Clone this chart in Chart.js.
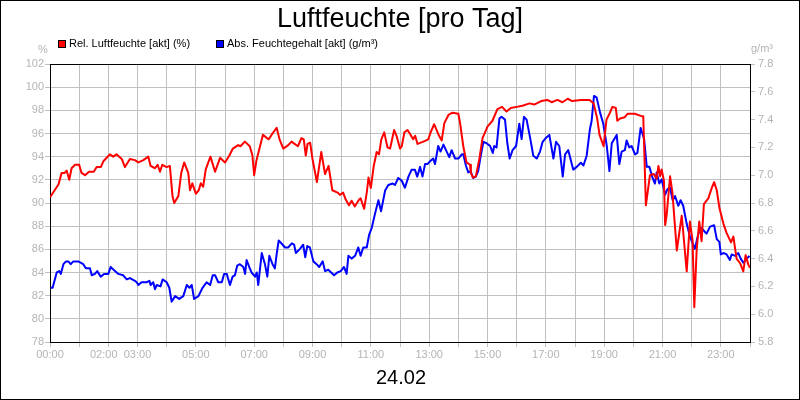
<!DOCTYPE html>
<html>
<head>
<meta charset="utf-8">
<title>Luftfeuchte [pro Tag]</title>
<script src="https://cdn.jsdelivr.net/npm/chart.js@4.4.1/dist/chart.umd.min.js"></script>
<style>
  html, body { margin: 0; padding: 0; background: #fff; }
  #wrap { width: 800px; height: 400px; position: relative; }
</style>
</head>
<body>
<div id="wrap"><canvas id="chart"></canvas></div>
<script>
// Rel. Luftfeuchte (%) - time in hours of the day
const relHours = [
  0, 0.29, 0.4, 0.5, 0.57, 0.66, 0.74, 0.86, 1.0, 1.08, 1.2, 1.34, 1.5, 1.6, 1.74, 1.83,
  2.05, 2.17, 2.28, 2.46, 2.57, 2.74, 2.91, 3.03, 3.2, 3.37, 3.45, 3.6, 3.69, 3.77, 3.85,
  4.0, 4.11, 4.2, 4.26, 4.4, 4.5, 4.6, 4.74, 4.8, 4.88, 5.0, 5.1, 5.17, 5.25, 5.34, 5.5, 5.66, 5.83,
  6.0, 6.15, 6.27, 6.45, 6.53, 6.68, 6.85, 6.94, 7.0, 7.08, 7.3, 7.44, 7.5, 7.6, 7.77, 7.87,
  8.0, 8.17, 8.28, 8.5, 8.62, 8.7, 8.77, 8.83, 8.92, 9.0, 9.15, 9.3, 9.43, 9.55, 9.68, 9.86, 9.94,
  10.05, 10.14, 10.25, 10.34, 10.45, 10.6, 10.65, 10.77, 10.86, 10.92, 11.0, 11.1, 11.2, 11.28, 11.36, 11.46, 11.57, 11.66, 11.8, 11.88,
  12.0, 12.06, 12.15, 12.26, 12.36, 12.45, 12.52, 12.6, 12.8, 12.97, 13.05, 13.17, 13.32, 13.43, 13.52, 13.66, 13.8,
  14.0, 14.06, 14.17, 14.28, 14.4, 14.43, 14.5, 14.6, 14.72, 14.83, 15.0, 15.17, 15.34, 15.5, 15.65, 15.8,
  16.0, 16.2, 16.44, 16.6, 16.84, 17.05, 17.2, 17.4, 17.57, 17.75, 17.9, 18.2, 18.5, 18.64, 18.76, 18.84, 18.98,
  19.08, 19.2, 19.28, 19.4, 19.45, 19.55, 19.7, 19.8, 20.05, 20.28, 20.34, 20.43, 20.57, 20.7, 20.8, 20.86, 20.92, 20.97,
  21.05, 21.09, 21.14, 21.26, 21.34, 21.49, 21.66, 21.83, 21.94, 22.03, 22.09, 22.17, 22.26, 22.34, 22.42, 22.57, 22.69, 22.77, 22.86, 22.95,
  23.09, 23.2, 23.35, 23.43, 23.54, 23.66, 23.77, 23.85, 23.94, 24.0
];
const relValues = [
  90.5, 91.6, 92.6, 92.6, 92.8, 92.0, 93.0, 93.3, 93.3, 92.6, 92.4, 92.7, 92.7, 93.1, 93.1, 93.6,
  94.2, 94.0, 94.2, 93.8, 93.1, 93.8, 93.7, 93.5, 93.7, 94.0, 93.2, 93.0, 93.3, 92.7, 93.3,
  93.1, 93.2, 90.6, 90.0, 90.6, 92.6, 93.5, 92.6, 91.1, 91.7, 90.8, 91.1, 91.7, 91.4, 92.9, 94.0, 92.7, 93.9,
  93.5, 94.1, 94.7, 95.0, 94.9, 95.3, 94.9, 94.1, 92.4, 93.7, 95.9, 95.6, 95.5, 95.9, 96.5, 95.5,
  94.7, 95.0, 95.3, 94.9, 95.6, 95.5, 94.1, 95.1, 95.2, 93.8, 91.8, 94.4, 92.5, 93.2, 91.1, 90.9, 90.7,
  90.9, 90.3, 89.8, 90.2, 89.7, 90.3, 90.4, 89.5, 90.9, 92.2, 91.3, 93.2, 94.4, 94.2, 95.5, 96.1, 94.8, 94.7, 96.3, 95.8,
  94.7, 94.9, 96.1, 96.3, 95.9, 95.5, 95.8, 95.1, 95.3, 95.5, 96.1, 96.8, 95.9, 95.4, 96.9, 97.6, 97.8,
  97.7, 96.9, 94.9, 93.5, 93.3, 92.6, 92.2, 92.3, 93.8, 95.6, 96.6, 97.1, 98.1, 98.3, 97.9, 98.2,
  98.3, 98.4, 98.6, 98.5, 98.8, 98.9, 98.7, 98.9, 98.7, 99.0, 98.8, 98.9, 98.9, 98.6, 97.3, 95.9, 94.9,
  97.2, 97.8, 98.3, 98.2, 97.1, 97.3, 97.4, 97.7, 97.7, 97.5, 97.5, 89.8, 92.4, 92.5, 92.1, 93.2, 92.3, 92.9,
  91.9, 88.1, 88.9, 92.3, 90.9, 85.9, 88.9, 84.1, 88.4, 86.8, 81.0, 85.9, 88.4, 86.7, 89.9, 90.4, 91.3, 91.8, 91.1, 89.6,
  88.2, 87.4, 86.6, 87.1, 85.2, 84.8, 84.1, 85.5, 84.7, 84.4
];

// Abs. Feuchtegehalt (g/m³)
const absHours = [
  0.02, 0.09, 0.23, 0.32, 0.37, 0.46, 0.55, 0.63, 0.71, 0.8, 0.91, 0.97, 1.14, 1.23, 1.37, 1.43, 1.54, 1.62, 1.74, 1.85,
  2.0, 2.08, 2.23, 2.34, 2.51, 2.63, 2.74, 2.91, 2.97, 3.03, 3.14, 3.31, 3.41, 3.45, 3.54, 3.6, 3.66, 3.79, 3.86,
  4.0, 4.09, 4.17, 4.29, 4.43, 4.57, 4.69, 4.78, 4.86, 4.94, 5.09, 5.23, 5.37, 5.49, 5.58, 5.66, 5.77, 5.89, 5.97,
  6.06, 6.17, 6.26, 6.34, 6.42, 6.51, 6.63, 6.69, 6.74, 6.83, 6.91, 7.03, 7.09, 7.14, 7.26, 7.37, 7.45, 7.52, 7.63, 7.71, 7.77, 7.84, 7.93,
  8.06, 8.17, 8.29, 8.37, 8.43, 8.57, 8.68, 8.75, 8.82, 8.91, 9.03, 9.14, 9.23, 9.35, 9.43, 9.54, 9.64, 9.74, 9.85, 9.97,
  10.08, 10.17, 10.23, 10.34, 10.46, 10.57, 10.65, 10.74, 10.86, 10.94, 11.03, 11.14, 11.26, 11.35, 11.49, 11.6, 11.75, 11.83, 11.94,
  12.06, 12.17, 12.29, 12.4, 12.51, 12.59, 12.69, 12.77, 12.86, 12.94, 13.03, 13.14, 13.2, 13.31, 13.39, 13.49, 13.6, 13.69, 13.77, 13.89,
  14.0, 14.12, 14.17, 14.26, 14.34, 14.42, 14.51, 14.6, 14.68, 14.76, 14.86, 14.97, 15.09, 15.18, 15.23, 15.31, 15.41, 15.48, 15.6, 15.68, 15.76, 15.86, 15.98,
  16.09, 16.17, 16.25, 16.34, 16.46, 16.57, 16.69, 16.8, 16.89, 17.01, 17.12, 17.26, 17.35, 17.46, 17.58, 17.66, 17.77, 17.94,
  18.06, 18.2, 18.29, 18.4, 18.51, 18.57, 18.65, 18.74, 18.86, 18.97, 19.09, 19.18, 19.26, 19.43, 19.52, 19.6, 19.71, 19.77, 19.86, 19.94,
  20.06, 20.14, 20.25, 20.37, 20.46, 20.55, 20.66, 20.74, 20.8, 20.89, 20.97, 21.09, 21.17, 21.26, 21.35, 21.43, 21.54, 21.62, 21.71, 21.83, 21.94,
  22.11, 22.23, 22.34, 22.46, 22.51, 22.63, 22.77, 22.86, 22.95, 23.0, 23.09, 23.2, 23.31, 23.37, 23.49, 23.6, 23.68, 23.77, 23.89, 23.98
];
const absValues = [
  6.19, 6.19, 6.30, 6.31, 6.29, 6.36, 6.38, 6.38, 6.36, 6.38, 6.38, 6.38, 6.36, 6.33, 6.33, 6.28, 6.29, 6.31, 6.27, 6.29,
  6.29, 6.34, 6.31, 6.29, 6.28, 6.25, 6.26, 6.24, 6.23, 6.21, 6.23, 6.23, 6.24, 6.21, 6.23, 6.18, 6.21, 6.20, 6.25,
  6.23, 6.19, 6.09, 6.13, 6.11, 6.13, 6.21, 6.19, 6.21, 6.11, 6.13, 6.19, 6.23, 6.21, 6.28, 6.28, 6.23, 6.23, 6.29,
  6.29, 6.21, 6.27, 6.28, 6.35, 6.36, 6.34, 6.29, 6.39, 6.34, 6.30, 6.27, 6.30, 6.21, 6.44, 6.36, 6.27, 6.42, 6.36, 6.33, 6.43, 6.53, 6.51,
  6.48, 6.48, 6.51, 6.50, 6.44, 6.47, 6.50, 6.41, 6.49, 6.48, 6.38, 6.36, 6.34, 6.38, 6.31, 6.32, 6.30, 6.28, 6.30, 6.31,
  6.34, 6.29, 6.42, 6.40, 6.42, 6.48, 6.42, 6.48, 6.48, 6.57, 6.62, 6.72, 6.82, 6.74, 6.89, 6.93, 6.94, 6.93, 6.98,
  6.96, 6.91, 6.99, 7.04, 7.04, 6.99, 7.06, 6.99, 7.08, 7.08, 7.10, 7.12, 7.08, 7.21, 7.17, 7.22, 7.17, 7.13, 7.18, 7.12,
  7.12, 7.15, 7.15, 7.07, 7.02, 7.03, 6.98, 6.99, 7.03, 7.13, 7.24, 7.23, 7.21, 7.16, 7.21, 7.20, 7.41, 7.42, 7.40, 7.23, 7.12, 7.18, 7.21,
  7.37, 7.26, 7.42, 7.40, 7.27, 7.14, 7.12, 7.17, 7.24, 7.27, 7.29, 7.12, 7.24, 7.21, 6.99, 7.15, 7.18, 7.04,
  7.06, 7.09, 7.07, 7.14, 7.33, 7.39, 7.57, 7.56, 7.45, 7.37, 7.21, 7.03, 7.23, 7.29, 7.08, 7.17, 7.18, 7.25, 7.20, 7.21,
  7.15, 7.16, 7.34, 7.26, 7.06, 7.06, 6.98, 6.94, 7.02, 6.94, 6.97, 6.86, 6.90, 6.91, 6.82, 6.85, 6.78, 6.82, 6.78, 6.65, 6.56,
  6.47, 6.58, 6.62, 6.59, 6.58, 6.63, 6.64, 6.54, 6.52, 6.43, 6.44, 6.43, 6.39, 6.43, 6.42, 6.44, 6.40, 6.37, 6.40, 6.42
];

// hours that get a label on the x axis
const labelHours = [0, 2, 3, 5, 7, 9, 11, 13, 15, 17, 19, 21, 23];

const gridColor = '#c0c0c0';
const tickColor = '#b4b4b4';
const tickFont = { family: 'Arial, "Liberation Sans"', size: 11 };

function toPoints(xs, ys) {
    return xs.map((x, i) => ({ x: x, y: ys[i] }));
}

// background, frame and all the texts around the plot
const decoPlugin = {
    id: 'deco',
    beforeDraw(chart) {
        const ctx = chart.ctx;
        ctx.save();
        ctx.fillStyle = '#fff';
        ctx.fillRect(0, 0, chart.width, chart.height);
        ctx.restore();
    },
    beforeDatasetsDraw(chart) {
        const ctx = chart.ctx;
        const a = chart.chartArea;
        ctx.save();
        ctx.strokeStyle = '#000';
        ctx.lineWidth = 1;
        ctx.strokeRect(Math.round(a.left) + 0.5, Math.round(a.top) + 0.5,
            Math.round(a.right - a.left), Math.round(a.bottom - a.top));
        ctx.restore();
    },
    afterDraw(chart) {
        const ctx = chart.ctx;
        ctx.save();
        // outer frame
        ctx.strokeStyle = '#000';
        ctx.lineWidth = 1;
        ctx.strokeRect(0.5, 0.5, chart.width - 1, chart.height - 1);

        // title
        ctx.fillStyle = '#000';
        ctx.textAlign = 'center';
        ctx.textBaseline = 'alphabetic';
        ctx.font = '27px Arial, "Liberation Sans"';
        ctx.fillText('Luftfeuchte [pro Tag]', 400, 27);

        // date below the x axis
        ctx.font = '20px Arial, "Liberation Sans"';
        ctx.fillText('24.02', 401, 384);

        // units
        ctx.font = '11px Arial, "Liberation Sans"';
        ctx.fillStyle = tickColor;
        ctx.fillText('%', 43, 53);
        ctx.fillText('g/m³', 762, 52);

        // legend
        ctx.textAlign = 'left';
        const items = chart.data.datasets;
        const xs = [58, 216];
        items.forEach((ds, i) => {
            const x = xs[i];
            ctx.fillStyle = ds.borderColor;
            ctx.fillRect(x, 40, 8, 8);
            ctx.strokeStyle = '#000';
            ctx.strokeRect(x + 0.5, 40.5, 7, 7);
            ctx.fillStyle = '#000';
            ctx.fillText(ds.label, x + 11, 47);
        });
        ctx.restore();
    }
};

new Chart(document.getElementById('chart'), {
    type: 'line',
    data: {
        datasets: [{
            label: 'Rel. Luftfeuchte [akt] (%)',
            data: toPoints(relHours, relValues),
            borderColor: '#ff0000',
            backgroundColor: '#ff0000',
            borderWidth: 2,
            pointRadius: 0,
            tension: 0,
            borderJoinStyle: 'round',
            yAxisID: 'y'
        }, {
            label: 'Abs. Feuchtegehalt [akt] (g/m³)',
            data: toPoints(absHours, absValues),
            borderColor: '#0000ff',
            backgroundColor: '#0000ff',
            borderWidth: 2,
            pointRadius: 0,
            tension: 0,
            borderJoinStyle: 'round',
            yAxisID: 'y1'
        }]
    },
    options: {
        responsive: true,
        maintainAspectRatio: false,
        animation: false,
        layout: { padding: { top: 64, left: 0, right: 0, bottom: 0 } },
        plugins: {
            legend: { display: false },
            title: { display: false },
            tooltip: { enabled: false }
        },
        scales: {
            x: {
                type: 'linear',
                min: 0,
                max: 24,
                ticks: {
                    stepSize: 1,
                    autoSkip: false,
                    maxRotation: 0,
                    color: tickColor,
                    font: tickFont,
                    padding: 1,
                    callback(v) {
                        if (!labelHours.includes(v)) return '';
                        const s = String(v).padStart(2, '0') + ':00';
                        // 02:00 sits a little to the left so it does not touch 03:00
                        return v === 2 ? s + '   ' : s;
                    }
                },
                grid: { color: gridColor, tickLength: 5 },
                border: { color: '#000' },
                afterFit(s) { s.height = 58; }
            },
            y: {
                position: 'left',
                min: 78,
                max: 102,
                ticks: { stepSize: 2, color: tickColor, font: tickFont, padding: 1 },
                grid: { color: gridColor, tickLength: 5 },
                border: { color: '#000' },
                afterFit(s) { s.width = 50; }
            },
            y1: {
                position: 'right',
                min: 5.8,
                max: 7.8,
                ticks: {
                    stepSize: 0.2,
                    color: tickColor,
                    font: tickFont,
                    padding: 3,
                    callback: v => v.toFixed(1)
                },
                grid: { color: gridColor, tickLength: 5, drawOnChartArea: false },
                border: { color: '#000' },
                afterFit(s) { s.width = 50; }
            }
        }
    },
    plugins: [decoPlugin]
});
</script>
</body>
</html>
